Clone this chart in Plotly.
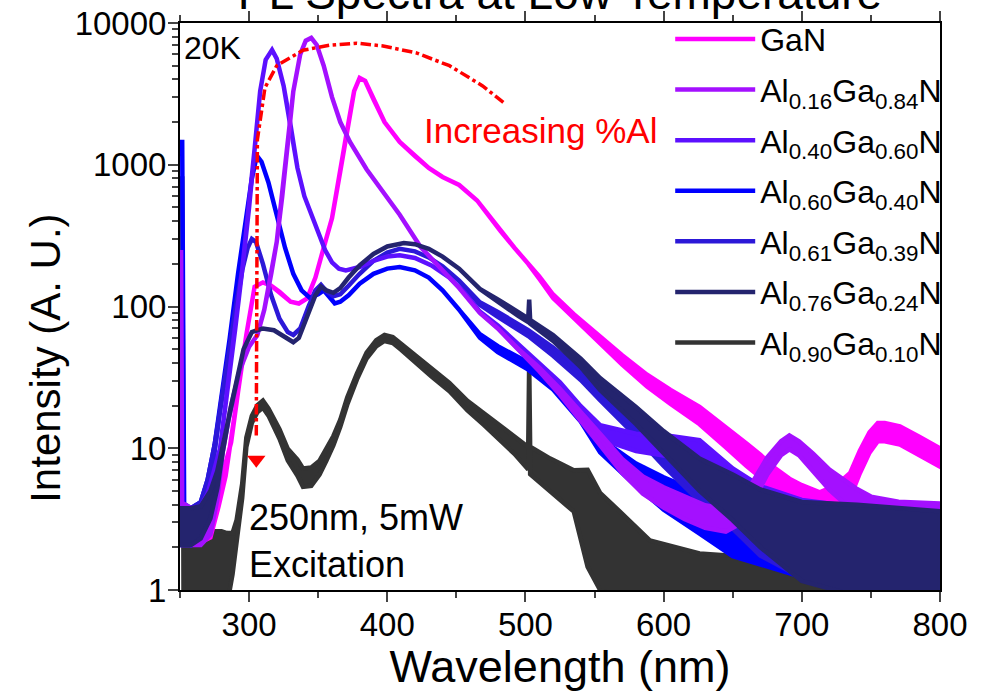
import plotly.graph_objects as go

# ---------------- data ----------------
# Each series: wavelengths (nm), geometric-centre intensity, and noise spread
# (band half-width factor; 1.0 = clean line)

WL_GAN = [250, 253, 258, 265, 272, 278, 283, 287, 292, 298,
          304, 310, 316, 322, 330, 336, 342, 348, 354, 360,
          366, 371, 376, 380, 384, 390, 398, 409, 420, 430,
          440, 452, 465, 482, 492, 502, 510, 520, 535, 554,
          570, 588, 605, 626, 645, 660, 670, 680, 691, 700,
          713, 725, 735, 742, 749, 755, 760, 771, 785, 800]
MID_GAN = [2.5, 2.5, 2.5, 2.5, 2.7, 4.5, 7, 11, 25, 63,
           138, 148, 140, 127, 108, 105, 114, 160, 260, 420,
           900, 1770, 3300, 4100, 3900, 2900, 2000, 1450, 1150, 950,
           820, 720, 560, 340, 260, 200, 160, 118, 85, 58,
           42, 30, 23, 17, 12, 9, 7.5, 6, 5, 4.5,
           4, 4.5, 5.5, 8, 11, 13, 13, 12.3, 10.4, 8.6]
SPR_GAN = [1.15, 1.15, 1.15, 1.15, 1.15, 1.15, 1.1, 1.0, 1.0, 1.0,
           1.0, 1.0, 1.0, 1.0, 1.0, 1.0, 1.0, 1.0, 1.0, 1.0,
           1.0, 1.0, 1.0, 1.0, 1.0, 1.0, 1.0, 1.0, 1.0, 1.0,
           1.0, 1.0, 1.0, 1.0, 1.0, 1.0, 1.02, 1.03, 1.04, 1.06,
           1.08, 1.1, 1.12, 1.15, 1.18, 1.2, 1.2, 1.22, 1.22, 1.22,
           1.22, 1.22, 1.22, 1.2, 1.18, 1.16, 1.16, 1.16, 1.16, 1.16]

WL_A16 = [250, 250.8, 251.6, 253, 258, 265, 272, 277, 281, 287,
          293, 300, 306, 311, 316, 320, 324, 328, 332, 337,
          341, 345, 349, 354, 360, 366, 373, 385, 397, 409,
          424, 440, 452, 467, 480, 495, 510, 525, 540, 554,
          570, 585, 600, 615, 630, 645, 655, 665, 675, 685,
          691, 698, 708, 720, 730, 740, 750, 770, 800]
MID_A16 = [3, 250, 3, 3, 2.8, 2.8, 3.2, 5, 10, 20,
           35, 52, 63, 95, 170, 285, 600, 1500, 3300, 6000,
           7500, 7850, 7000, 5000, 3000, 2000, 1450, 930, 650, 444,
           264, 180, 135, 90, 70, 50, 36, 25, 17, 11.5,
           7.5, 5.5, 4.5, 3.8, 3.3, 3.1, 3.5, 5, 7.5, 10,
           11, 10, 8, 6, 5, 4.3, 3.8, 3.5, 3.4]
SPR_A16 = [1.35, 1.0, 1.35, 1.35, 1.35, 1.35, 1.3, 1.15, 1.05, 1.0,
           1.0, 1.0, 1.0, 1.0, 1.0, 1.0, 1.0, 1.0, 1.0, 1.0,
           1.0, 1.0, 1.0, 1.0, 1.0, 1.0, 1.0, 1.0, 1.0, 1.0,
           1.0, 1.0, 1.0, 1.0, 1.0, 1.0, 1.03, 1.05, 1.07, 1.1,
           1.12, 1.15, 1.18, 1.2, 1.2, 1.2, 1.2, 1.18, 1.15, 1.12,
           1.12, 1.12, 1.15, 1.18, 1.2, 1.2, 1.2, 1.2, 1.2]

WL_A40 = [250, 253, 258, 265, 270, 274, 279, 285, 290, 295,
          300, 304, 308, 312, 316.6, 320, 325, 330, 335, 340,
          345, 350, 355, 360, 365, 370, 380, 390, 400, 409,
          420, 432, 445, 456, 467, 480, 495, 510, 525, 540,
          554, 580, 600, 626, 650, 670, 700, 740, 800]
MID_A40 = [2.8, 2.8, 2.8, 3, 4, 6, 10, 30, 70, 180,
           500, 1300, 3300, 5500, 6460, 5600, 3600, 1900, 950, 600,
           450, 330, 250, 205, 185, 180, 190, 210, 225, 230,
           220, 195, 160, 125, 92, 72, 52, 38, 27, 18,
           13, 11, 10.5, 9.5, 6, 4.5, 3.6, 3.2, 3.2]
SPR_A40 = [1.35, 1.35, 1.35, 1.3, 1.2, 1.1, 1.0, 1.0, 1.0, 1.0,
           1.0, 1.0, 1.0, 1.0, 1.0, 1.0, 1.0, 1.0, 1.0, 1.0,
           1.0, 1.0, 1.0, 1.0, 1.0, 1.0, 1.0, 1.0, 1.0, 1.0,
           1.0, 1.0, 1.0, 1.0, 1.0, 1.02, 1.04, 1.06, 1.08, 1.1,
           1.12, 1.15, 1.18, 1.2, 1.2, 1.2, 1.2, 1.2, 1.2]

WL_A60 = [250, 251.6, 253, 258, 265, 270, 275, 280, 286, 292,
          298, 302, 305.6, 309, 314, 320, 326, 332, 338, 344,
          350, 354, 358, 362, 366, 372, 380, 390, 400, 409,
          420, 430, 440, 452, 467, 480, 502, 520, 540, 554,
          580, 600, 626, 650, 700, 750, 800]
MID_A60 = [1450, 1450, 3, 2.8, 3.2, 5, 10, 22, 60, 170,
           450, 800, 1160, 1050, 750, 450, 260, 170, 130, 115,
           122, 130, 118, 105, 108, 120, 145, 170, 185, 190,
           180, 160, 130, 95, 62, 50, 38, 28, 17, 10.5,
           6.5, 4.8, 3.5, 2.6, 2.1, 1.9, 1.9]
SPR_A60 = [1.0, 1.0, 1.35, 1.35, 1.3, 1.2, 1.05, 1.0, 1.0, 1.0,
           1.0, 1.0, 1.0, 1.0, 1.0, 1.0, 1.0, 1.0, 1.0, 1.0,
           1.0, 1.0, 1.0, 1.0, 1.0, 1.0, 1.0, 1.0, 1.0, 1.0,
           1.0, 1.0, 1.0, 1.0, 1.03, 1.05, 1.06, 1.08, 1.1, 1.12,
           1.2, 1.3, 1.4, 1.5, 1.7, 1.8, 1.7]

WL_A61 = [250, 253, 258, 265, 270, 275, 280, 285, 290, 295,
          299, 302, 305, 310, 316, 322, 328, 332, 337, 343,
          348, 352, 356, 361, 366, 372, 380, 390, 400, 409,
          420, 430, 440, 452, 467, 480, 502, 520, 540, 554,
          580, 600, 626, 650, 670, 700, 740, 800]
MID_A61 = [2.8, 2.8, 2.8, 3.2, 5, 10, 22, 45, 95, 180,
           260, 300, 285, 200, 120, 82, 66, 63, 70, 100,
           130, 142, 128, 118, 122, 140, 170, 210, 240, 255,
           245, 222, 192, 152, 105, 88, 65, 48, 33, 24,
           14, 9, 5.5, 3.8, 2.8, 2.2, 1.9, 1.8]
SPR_A61 = [1.35, 1.35, 1.35, 1.3, 1.2, 1.05, 1.0, 1.0, 1.0, 1.0,
           1.0, 1.0, 1.0, 1.0, 1.0, 1.0, 1.0, 1.0, 1.0, 1.0,
           1.0, 1.0, 1.0, 1.0, 1.0, 1.0, 1.0, 1.0, 1.0, 1.0,
           1.0, 1.0, 1.0, 1.0, 1.02, 1.04, 1.05, 1.07, 1.09, 1.1,
           1.15, 1.2, 1.3, 1.4, 1.6, 1.8, 2.0, 2.0]

WL_A76 = [250, 253, 258, 265, 272, 277, 281, 286, 290, 296,
          302, 310, 318, 325, 332, 336, 342, 348, 352, 356,
          361, 366, 372, 380, 390, 400, 412, 420, 430, 440,
          452, 467, 480, 495, 502, 502.7, 503.4, 520, 540, 554,
          580, 600, 626, 650, 670, 700, 740, 800]
MID_A76 = [2.8, 2.8, 2.8, 3, 4, 6, 10, 18, 28, 50,
           66, 70, 68, 62, 56, 60, 85, 120, 138, 130,
           125, 135, 160, 195, 235, 265, 280, 275, 255, 225,
           185, 133, 110, 88, 80, 112, 78, 60, 40, 28.4,
           17, 11, 6.5, 4.5, 3.2, 2.2, 1.9, 1.8]
SPR_A76 = [1.35, 1.35, 1.35, 1.3, 1.25, 1.15, 1.05, 1.0, 1.0, 1.0,
           1.0, 1.0, 1.0, 1.0, 1.0, 1.0, 1.0, 1.0, 1.0, 1.0,
           1.0, 1.0, 1.0, 1.0, 1.0, 1.0, 1.0, 1.0, 1.0, 1.0,
           1.0, 1.0, 1.02, 1.03, 1.03, 1.0, 1.03, 1.05, 1.07, 1.1,
           1.15, 1.2, 1.3, 1.45, 1.6, 1.9, 2.1, 2.0]

WL_A90 = [250, 251.6, 252.6, 258, 265, 272, 280, 284, 288, 291,
          295, 298, 302, 306, 310, 314, 318, 322, 328, 335,
          339, 345, 351, 356, 361, 366, 371, 378, 385, 392,
          398, 404, 410, 420, 432, 445, 458, 470, 481, 492,
          502, 502.7, 503.4, 518, 535, 545, 554, 568, 590, 626,
          700, 800]
MID_A90 = [800, 800, 1.3, 1.3, 1.3, 1.3, 1.3, 1.4, 1.8, 2.5,
           5, 11, 16, 19, 20.5, 18, 15, 12.6, 9, 7.3,
           6.2, 6.3, 7.3, 9, 11.3, 15, 21.5, 32, 45, 55,
           60, 58, 52, 43, 34, 27, 20, 16, 13, 10.5,
           8.5, 41, 8.2, 6.5, 5, 3.2, 2.2, 1.8, 1.4, 1.25,
           1.15, 1.15]
SPR_A90 = [1.0, 1.0, 2.0, 2.0, 2.0, 2.0, 2.0, 1.8, 1.4, 1.25,
           1.12, 1.08, 1.06, 1.06, 1.06, 1.06, 1.06, 1.08, 1.1, 1.14,
           1.16, 1.16, 1.12, 1.1, 1.08, 1.06, 1.06, 1.05, 1.05, 1.05,
           1.05, 1.05, 1.05, 1.05, 1.06, 1.07, 1.08, 1.1, 1.12, 1.15,
           1.2, 1.0, 1.25, 1.3, 1.4, 2.2, 2.2, 2.0, 1.6, 1.45,
           1.4, 1.4]

SERIES_NAMES = ["GaN",
                "Al<sub>0.16</sub>Ga<sub>0.84</sub>N",
                "Al<sub>0.40</sub>Ga<sub>0.60</sub>N",
                "Al<sub>0.60</sub>Ga<sub>0.40</sub>N",
                "Al<sub>0.61</sub>Ga<sub>0.39</sub>N",
                "Al<sub>0.76</sub>Ga<sub>0.24</sub>N",
                "Al<sub>0.90</sub>Ga<sub>0.10</sub>N"]
SERIES_COLORS = ["#ff00ff", "#a410ff", "#5c10ff", "#0000ff",
                 "#2c18d8", "#24246e", "#333333"]

# "Increasing %Al" guide arrow (wavelength, intensity)
ARROW_WL = [484, 469, 445, 421, 397, 378, 358, 339, 320, 311.5, 306, 305.5, 305.2]
ARROW_I = [2750, 3600, 5000, 6150, 6890, 7200, 6960, 6430, 5000, 3500, 1500, 150, 12]
ARROW_TIP_I = 8.3

X_TICKS = [300, 400, 500, 600, 700, 800]
Y_TICKS = [1, 10, 100, 1000, 10000]
Y_TICKTEXT = ["1", "10", "100", "1000", "10000"]

FONT = "Liberation Sans, Arial, sans-serif"

# ---------------- build figure ----------------
def band(wl, mid, spr):
    hi = [m * s for m, s in zip(mid, spr)]
    lo = [m / s for m, s in zip(mid, spr)]
    return list(wl) + list(wl)[::-1], hi + lo[::-1]

data = {
    0: (WL_GAN, MID_GAN, SPR_GAN),
    1: (WL_A16, MID_A16, SPR_A16),
    2: (WL_A40, MID_A40, SPR_A40),
    3: (WL_A60, MID_A60, SPR_A60),
    4: (WL_A61, MID_A61, SPR_A61),
    5: (WL_A76, MID_A76, SPR_A76),
    6: (WL_A90, MID_A90, SPR_A90),
}
draw_order = [6, 0, 3, 4, 2, 1, 5]

fig = go.Figure()
for i in draw_order:
    xs, ys = band(*data[i])
    fig.add_trace(go.Scatter(
        x=xs, y=ys, mode="lines", fill="toself",
        fillcolor=SERIES_COLORS[i],
        line=dict(color=SERIES_COLORS[i], width=4.5),
        showlegend=False, hoverinfo="skip"))

# legend entries
for i, (nm, c) in enumerate(zip(SERIES_NAMES, SERIES_COLORS)):
    fig.add_trace(go.Scatter(x=[None], y=[None], mode="lines", name=nm,
                             legendgroup=f"g{i}",
                             line=dict(color=c, width=4.5)))

# guide arrow
fig.add_trace(go.Scatter(x=ARROW_WL, y=ARROW_I, mode="lines",
                         line=dict(color="#ff0000", width=3.5, dash="dashdot"),
                         showlegend=False, hoverinfo="skip"))
fig.add_trace(go.Scatter(x=[ARROW_WL[-1]], y=[ARROW_TIP_I], mode="markers",
                         marker=dict(symbol="triangle-down", size=16, color="#ff0000"),
                         showlegend=False, hoverinfo="skip"))

fig.update_layout(
    width=981, height=692,
    margin=dict(l=180, r=41, t=20, b=102),
    plot_bgcolor="white", paper_bgcolor="white",
    font=dict(family=FONT, color="black"),
    title=dict(text="PL Spectra at Low Temperature", font=dict(size=46, family=FONT),
               xref="paper", x=0.5, xanchor="center",
               yref="container", y=0.987, yanchor="bottom"),
    legend=dict(x=0.645, y=1.02, xanchor="left", yanchor="top",
                bgcolor="rgba(0,0,0,0)", font=dict(size=32, family=FONT),
                tracegroupgap=6, itemwidth=80, maxheight=690),
    xaxis=dict(range=[250, 800], tickvals=X_TICKS, ticks="outside", ticklen=10,
               tickwidth=2, showline=True, linewidth=2, linecolor="black",
               mirror="ticks", showgrid=False, zeroline=False, automargin=False,
               tickfont=dict(size=33), ticklabelstandoff=-6,
               minor=dict(ticks="outside", dtick=50, ticklen=6, tickwidth=2),
               title=dict(text="Wavelength (nm)", font=dict(size=45), standoff=8)),
    xaxis2=dict(overlaying="x", side="top", range=[250, 800], showline=True,
                linecolor="#9b1cff", linewidth=2, showticklabels=False, ticks="",
                showgrid=False, zeroline=False, automargin=False),
    yaxis=dict(type="log", range=[0, 4], tickvals=Y_TICKS, ticktext=Y_TICKTEXT,
               ticks="outside", ticklen=10, tickwidth=2, showline=True,
               linewidth=2, linecolor="black", mirror=True, showgrid=False,
               zeroline=False, automargin=False, tickfont=dict(size=33),
               ticklabelstandoff=-5,
               minor=dict(ticks="outside", dtick="D1", ticklen=6, tickwidth=1.5)),
    annotations=[
        dict(text="Intensity (A. U.)", xref="paper", yref="paper", x=-0.178, y=0.409,
             xanchor="center", yanchor="middle", textangle=-90, showarrow=False,
             font=dict(size=42, family=FONT)),
        dict(text="20K", xref="paper", yref="paper", x=0.002, y=0.956,
             xanchor="left", yanchor="middle", showarrow=False,
             font=dict(size=32, family=FONT)),
        dict(text="Increasing %Al", xref="paper", yref="paper", x=0.318, y=0.81,
             xanchor="left", yanchor="middle", showarrow=False,
             font=dict(size=35, family=FONT, color="#ff0000")),
        dict(text="250nm, 5mW<br>Excitation", xref="paper", yref="paper",
             x=0.088, y=0.086, xanchor="left", yanchor="middle", align="left",
             showarrow=False, font=dict(size=36, family=FONT)),
    ],
)

fig.write_html(
    "out.html",
    config={"displayModeBar": False},
    post_script=("document.body.style.margin='0px';"
                 "document.body.style.overflow='hidden';"
                 "document.documentElement.style.overflow='hidden';"),
)
